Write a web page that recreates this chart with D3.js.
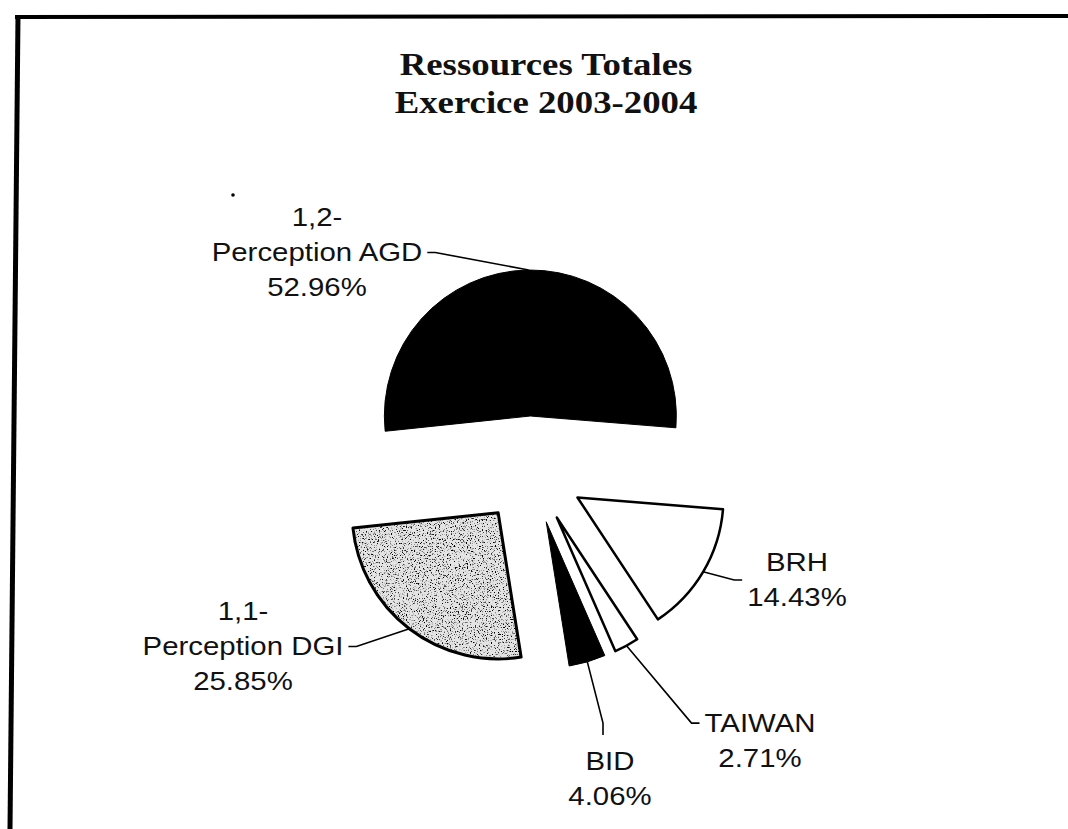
<!DOCTYPE html>
<html>
<head>
<meta charset="utf-8">
<script src="https://cdn.jsdelivr.net/npm/d3@7"></script>
<style>
  body { margin: 0; background: #fff; }
  svg { display: block; }
  .lbl { font-family: "Liberation Sans", Arial, sans-serif; font-size: 26px; fill: #111; }
  .ttl { font-family: "Liberation Serif", "Times New Roman", serif; font-size: 32px; font-weight: bold; fill: #111; }
</style>
</head>
<body>
<svg width="1068" height="829"></svg>
<script>
// the numbers
var names = [["1,2-", "Perception AGD"], ["BRH"], ["TAIWAN"], ["BID"], ["1,1-", "Perception DGI"]];
var shares = [52.96, 14.43, 2.71, 4.06, 25.85];
var title = ["Ressources Totales", "Exercice 2003-2004"];

// look of each slice
var fills = ["#000", "#fff", "#fff", "#000", "grain"];

// label blocks: centre x, first baseline, where the leader meets the block
var labelAt = [
  {x: 317, y: 226, side: "right", f: 0.5},
  {x: 797, y: 571, side: "left", f: 0.5},
  {x: 760, y: 732, side: "left", f: 0.18},
  {x: 610, y: 770, side: "top", dx: -7},
  {x: 243, y: 620, side: "right", f: 0.5}
];

var W = 1068, H = 829;
var cx = 531, cy = 470, R = 146, EXPLODE = 54;
var START = -96 * Math.PI / 180;
var SX = 1.13, LH = 35, CAP = 19;

var svg = d3.select("svg");

// scanned frame, only top and left edges are in the picture
svg.append("line").attr("x1", 15).attr("y1", 17).attr("x2", W).attr("y2", 16)
  .attr("stroke", "#000").attr("stroke-width", 4);
svg.append("line").attr("x1", 18).attr("y1", 15).attr("x2", 10).attr("y2", H)
  .attr("stroke", "#000").attr("stroke-width", 5);

// speckle texture for the DGI slice
var flt = svg.append("defs").append("filter").attr("id", "grain")
  .attr("x", 0).attr("y", 0).attr("width", "100%").attr("height", "100%")
  .attr("color-interpolation-filters", "sRGB");
flt.append("feTurbulence").attr("type", "fractalNoise").attr("baseFrequency", 0.75)
  .attr("numOctaves", 3).attr("seed", 7).attr("result", "noise");
flt.append("feColorMatrix").attr("in", "noise").attr("type", "matrix")
  .attr("values", "0 0 0 0 0  0 0 0 0 0  0 0 0 0 0  6 0 0 0 -3.4").attr("result", "dots");
flt.append("feComposite").attr("in", "dots").attr("in2", "SourceGraphic").attr("operator", "in");

// title
svg.selectAll("text.ttl").data(title).enter().append("text")
  .attr("class", "ttl")
  .attr("text-anchor", "middle")
  .attr("transform", function(d, i) { return "translate(546," + (75 + i * 38) + ") scale(1.15,1)"; })
  .text(function(d) { return d; });

var pie = d3.pie().sort(null).value(function(d) { return d; })
  .startAngle(START).endAngle(START + 2 * Math.PI);
var arc = d3.arc().innerRadius(0).outerRadius(R);
var arcs = pie(shares);

function polar(a, r) { return [r * Math.sin(a), -r * Math.cos(a)]; }

var slices = svg.selectAll("g.slice").data(arcs).enter().append("g")
  .attr("class", "slice")
  .attr("transform", function(d) {
    var o = polar((d.startAngle + d.endAngle) / 2, EXPLODE);
    return "translate(" + (cx + o[0]) + "," + (cy + o[1]) + ")";
  });

slices.each(function(d, i) {
  var g = d3.select(this);
  if (fills[i] === "grain") {
    g.append("path").attr("d", arc(d)).attr("fill", "#e4e4e4");
    g.append("path").attr("d", arc(d)).attr("fill", "#000").attr("filter", "url(#grain)");
    g.append("path").attr("d", arc(d)).attr("fill", "none")
      .attr("stroke", "#000").attr("stroke-width", 3).attr("stroke-linejoin", "round");
  } else {
    g.append("path").attr("d", arc(d)).attr("fill", fills[i])
      .attr("stroke", "#000").attr("stroke-width", fills[i] === "#000" ? 1 : 2.5)
      .attr("stroke-linejoin", "round");
  }
});

// labels and leaders
arcs.forEach(function(d, i) {
  var L = labelAt[i];
  var lines = names[i].concat([shares[i].toFixed(2) + "%"]);
  var g = svg.append("g").attr("transform", "translate(" + L.x + "," + L.y + ") scale(" + SX + ",1)");
  var widest = 0;
  lines.forEach(function(s, k) {
    var t = g.append("text").attr("class", "lbl").attr("text-anchor", "middle")
      .attr("x", 0).attr("y", k * LH).text(s);
    widest = Math.max(widest, t.node().getComputedTextLength() * SX);
  });
  var top = L.y - CAP, bottom = L.y + (lines.length - 1) * LH + 2;
  var end, elbow;
  if (L.side === "top") {
    end = [L.x + (L.dx || 0), top - 16];
    elbow = [end[0], end[1] - 12];
  } else {
    var y = top + L.f * (bottom - top);
    var s = L.side === "right" ? 1 : -1;
    end = [L.x + s * (widest / 2 + 5), y];
    elbow = [end[0] + s * 8, y];
  }
  var mid = (d.startAngle + d.endAngle) / 2;
  var o = polar(mid, EXPLODE), p = polar(mid, R);
  var start = [cx + o[0] + p[0], cy + o[1] + p[1]];
  svg.append("path")
    .attr("d", d3.line()([start, elbow, end]))
    .attr("fill", "none").attr("stroke", "#000").attr("stroke-width", 1.6);
});

// stray speck from the scan
svg.append("circle").attr("cx", 233).attr("cy", 195).attr("r", 1.8).attr("fill", "#000");
</script>
</body>
</html>
